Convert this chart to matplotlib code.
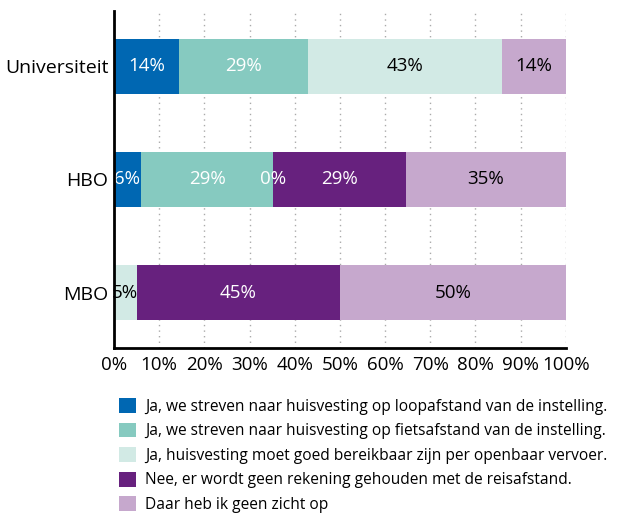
import numpy as np
import matplotlib
matplotlib.use("Agg")
import matplotlib.pyplot as plt
from matplotlib.patches import Patch

plt.rcParams['font.family'] = ['Open Sans', 'DejaVu Sans']

categories = ["Universiteit", "HBO", "MBO"]
series_names = [
    "Ja, we streven naar huisvesting op loopafstand van de instelling.",
    "Ja, we streven naar huisvesting op fietsafstand van de instelling.",
    "Ja, huisvesting moet goed bereikbaar zijn per openbaar vervoer.",
    "Nee, er wordt geen rekening gehouden met de reisafstand.",
    "Daar heb ik geen zicht op",
]
# values per series (Universiteit, HBO, MBO); NaN = no answer/no label
loop = [14.3, 5.9, np.nan]
fiets = [28.6, 29.4, np.nan]
ov = [42.9, 0.0, 5.0]
nee = [np.nan, 29.4, 45.0]
geen_zicht = [14.3, 35.3, 50.0]
series = [loop, fiets, ov, nee, geen_zicht]
colors = ["#0067B2", "#86CAC0", "#D2EAE5", "#67217E", "#C6A8CD"]
text_colors = ["white", "white", "black", "white", "black"]
xticks = [0, 10, 20, 30, 40, 50, 60, 70, 80, 90, 100]

fig = plt.figure(figsize=(6.35, 5.13), dpi=100)
ax = fig.add_axes([114/635, 1 - 348/513, (565.7-114)/635, (348-11)/513])

y = np.arange(len(categories))
left = np.zeros(len(categories))
for i, (vals, col) in enumerate(zip(series, colors)):
    v = np.array(vals, dtype=float)
    w = np.nan_to_num(v)
    ax.barh(y, w, left=left, height=0.484, color=col, zorder=2)
    for j in range(len(categories)):
        if not np.isnan(v[j]):
            tc = text_colors[i] if w[j] > 0 else "white"
            ax.text(left[j] + w[j] / 2, y[j], f"{v[j]:.0f}%", ha="center", va="center",
                    color=tc, fontsize=13.5, zorder=3)
    left += w

ax.set_ylim(2.49, -0.49)
ax.set_xlim(0, 100)
ax.set_yticks(y)
ax.set_yticklabels(categories, fontsize=14)
ax.set_xticks(xticks)
ax.set_xticklabels([f"{t}%" for t in xticks], fontsize=13.5)
ax.tick_params(length=0, pad=4)
ax.tick_params(axis='x', pad=6)
for s in ["top", "right"]:
    ax.spines[s].set_visible(False)
for s in ["left", "bottom"]:
    ax.spines[s].set_linewidth(2)
    ax.spines[s].set_color("black")
    ax.spines[s].set_zorder(4)
ax.grid(axis="x", linestyle=(0, (1, 3)), color="#aaaaaa", linewidth=1, zorder=1)
ax.set_axisbelow(True)

handles = [Patch(facecolor=c, edgecolor="none") for c in colors]
fig.legend(handles, series_names, loc="upper left",
           bbox_to_anchor=(119/635, 1 - 398/513), frameon=False,
           fontsize=11.2, handlelength=1.1, handleheight=1.1, handletextpad=0.6,
           labelspacing=0.5, borderaxespad=0, borderpad=0)

fig.savefig("out.png", dpi=100)
